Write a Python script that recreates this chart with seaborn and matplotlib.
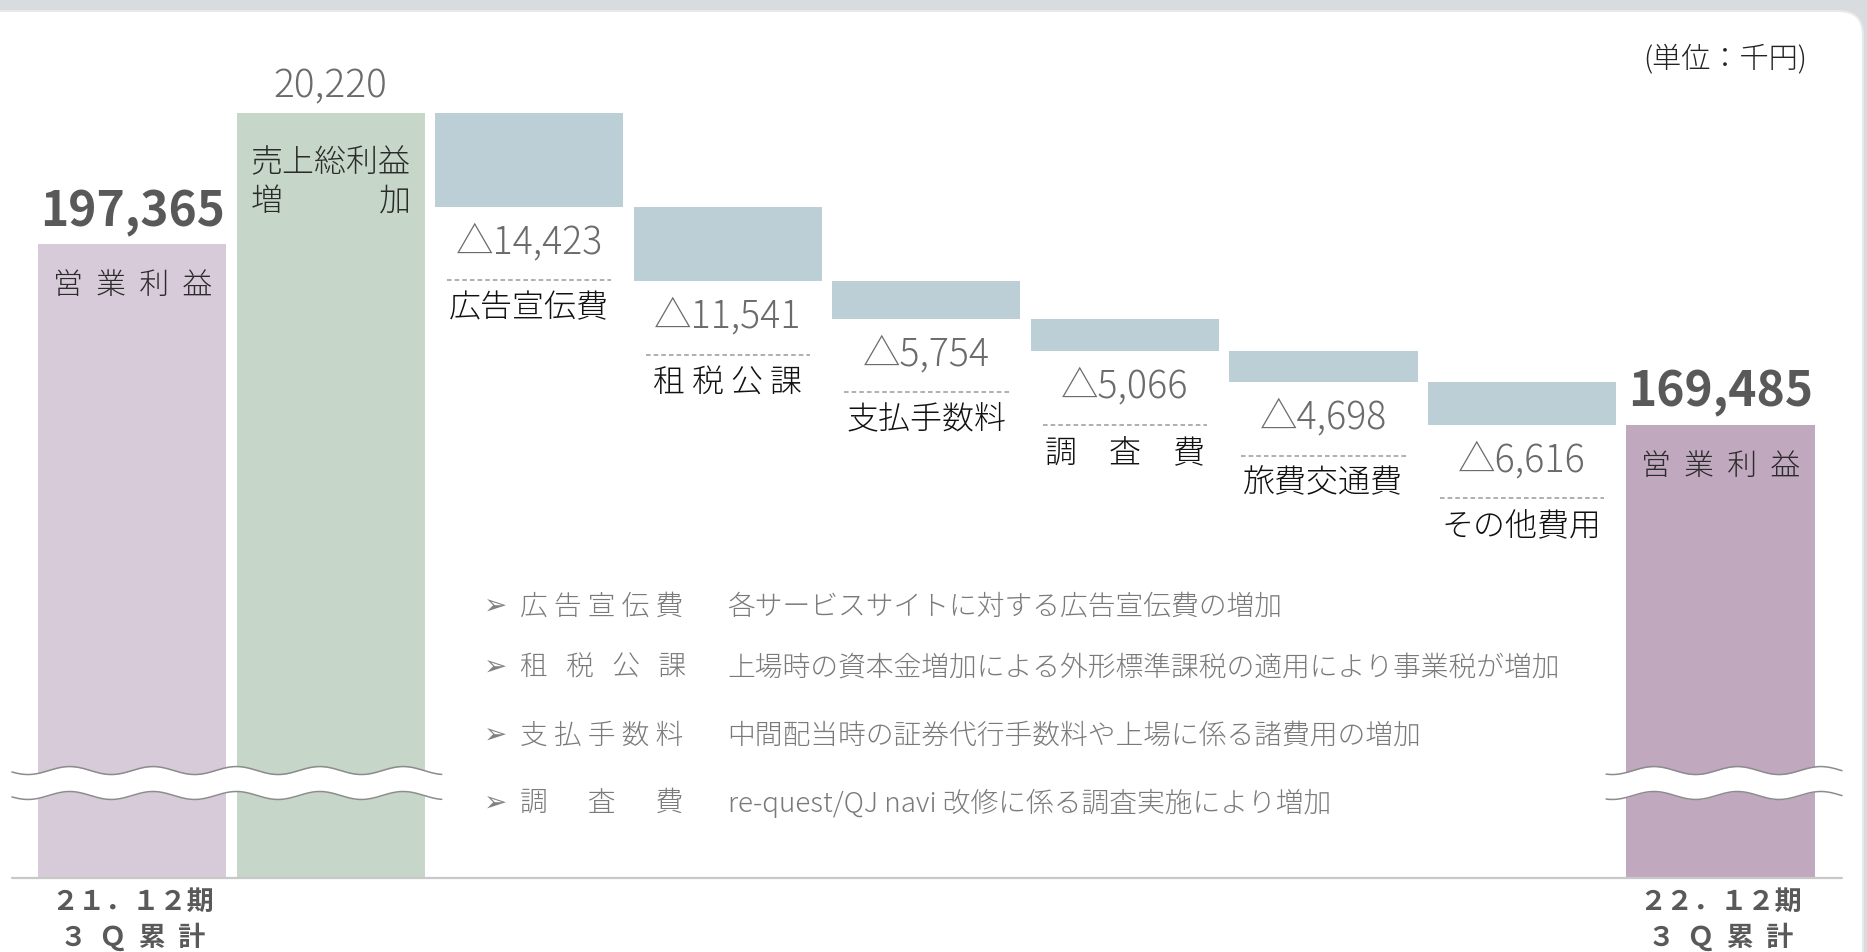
import numpy as np
import matplotlib
matplotlib.use("Agg")
import matplotlib.pyplot as plt
import seaborn as sns
from matplotlib.patches import FancyBboxPatch
from matplotlib.transforms import IdentityTransform, blended_transform_factory, offset_copy

# --- data (単位：千円) ---
items = ["21.12期3Q累計", "売上総利益増加", "広告宣伝費", "租税公課", "支払手数料",
         "調査費", "旅費交通費", "その他費用", "22.12期3Q累計"]
start_total = 197365
gross_profit_up = 20220
cost_names = ["広告宣伝費", "租 税 公 課", "支払手数料", "調　査　費", "旅費交通費", "その他費用"]
cost_increase = [14423, 11541, 5754, 5066, 4698, 6616]
end_total = 169485
period_labels = [("２１．１２期", "３  Ｑ  累  計"), ("２２．１２期", "３  Ｑ  累  計")]

note_heads = ["広 告 宣 伝 費", "租   税   公   課", "支 払 手 数 料", "調　  査　  費"]
note_texts = ["各サービスサイトに対する広告宣伝費の増加",
              "上場時の資本金増加による外形標準課税の適用により事業税が増加",
              "中間配当時の証券代行手数料や上場に係る諸費用の増加",
              "re-quest/QJ navi 改修に係る調査実施により増加"]

bar_colors = ["#d8cbd9", "#c6d6c8"] + ["#bdcfd6"] * 6 + ["#c0a8bf"]

# waterfall geometry: the gross profit bar is drawn from the floor like the totals
top = start_total + gross_profit_up
running = [top]
for c in cost_increase:
    running.append(running[-1] - c)
heights = [start_total, top] + cost_increase + [end_total]
bottoms = [0, 0] + running[1:] + [0]

y_lo, y_hi = 99530, 229519

sns.set_theme(style="white")
plt.rcParams["font.family"] = ["Noto Sans CJK JP", "DejaVu Sans"]

fig = plt.figure(figsize=(18.67, 9.52), dpi=100)
fig.patch.set_facecolor("#d9dcdf")
card = FancyBboxPatch((-40, -40), 1903, 981, boxstyle="round,pad=0,rounding_size=24",
                      transform=IdentityTransform(), facecolor="white",
                      edgecolor="#e6e8ea", linewidth=1.5, zorder=-1)
fig.add_artist(card)

ax = fig.add_axes([0.00638, 0.0775, 0.98023, 0.885])
ax.patch.set_alpha(0)

sns.barplot(x=items, y=heights, bottom=bottoms, color="#bdcfd6", width=0.948,
            errorbar=None, linewidth=0, ax=ax)
for p, c in zip(ax.patches, bar_colors):
    p.set_facecolor(c)
    p.set_edgecolor("none")

ax.axhline(y_lo, color="#c8c8c8", lw=1.6, clip_on=False, zorder=5)

# broken-axis waves
tr = blended_transform_factory(ax.transData, ax.transAxes)
for x0, x1 in [(-0.6057, 1.559), (7.424, 8.612)]:
    xs = np.linspace(x0, x1, 400)
    w = 0.00474 * np.sin(2 * np.pi * xs / 0.42)
    upper, lower = 0.1278 + w, 0.0982 + w
    ax.fill_between(xs, lower, upper, transform=tr, color="white", lw=0, zorder=3, clip_on=False)
    ax.plot(xs, upper, transform=tr, color="#8c8c8c", lw=1.1, zorder=4, clip_on=False)
    ax.plot(xs, lower, transform=tr, color="#8c8c8c", lw=1.1, zorder=4, clip_on=False)

def label(text, x, y, dy, **kw):
    kw.setdefault("ha", "center")
    kw.setdefault("fontweight", "light")
    ax.annotate(text, xy=(x, y), xytext=(0, dy), textcoords="offset points",
                va="center", annotation_clip=False, **kw)

# totals
for i, val in [(0, start_total), (len(items) - 1, end_total)]:
    label(f"{val:,}", i, val, 23, fontsize=34.5, fontweight="bold", color="#595959")
    label("営  業  利  益", i, val, -30, fontsize=21.5, color="#2b2b2b")

# gross profit increase
label(f"{gross_profit_up:,}", 1, top, 19, fontsize=28, color="#6b6b6b")
label("売上総利益", 1, top, -36, fontsize=23, color="#2b2b2b")
label("増　　　加", 1, top, -64, fontsize=23, color="#2b2b2b")

# cost increases
dash_tr = offset_copy(ax.transData, fig=fig, y=-53, units="points")
for k, (name, c) in enumerate(zip(cost_names, cost_increase)):
    i = k + 2
    b = bottoms[i]
    label(f"△{c:,}", i, b, -25.7, fontsize=27, color="#6b6b6b")
    ax.plot([i - 0.414, i + 0.414], [b, b], transform=dash_tr, ls=(0, (3, 2)),
            color="#9a9a9a", lw=1.1, clip_on=False)
    label(name, i, b, -73, fontsize=23, color="#111111")

# period labels under the totals
for i, (l1, l2) in zip([0, len(items) - 1], period_labels):
    label(l1, i, y_lo, -17.3, fontsize=19.5, fontweight="bold", color="#595959")
    label(l2, i, y_lo, -42.5, fontsize=19.5, fontweight="bold", color="#595959")

# unit
fig.text(1518 / 1568, 1 - 50 / 800, "(単位：千円)", ha="right", va="center",
         fontsize=21, fontweight="light", color="#222222")

# notes
for yy, head, txt in zip([510, 561, 618, 675], note_heads, note_texts):
    fy = 1 - yy / 800
    fig.text(416 / 1568, fy, "➢", ha="center", va="center", fontsize=20,
             color="#808080", family=["DejaVu Sans"])
    fig.text(437 / 1568, fy, head, ha="left", va="center", fontsize=20,
             fontweight="light", color="#7a7a7a")
    fig.text(611 / 1568, fy, txt, ha="left", va="center", fontsize=20,
             fontweight="light", color="#7a7a7a")

ax.set_xlim(-0.6057, 8.612)
ax.set_ylim(y_lo, y_hi)
ax.axis("off")

fig.savefig("out.png", dpi=100)
